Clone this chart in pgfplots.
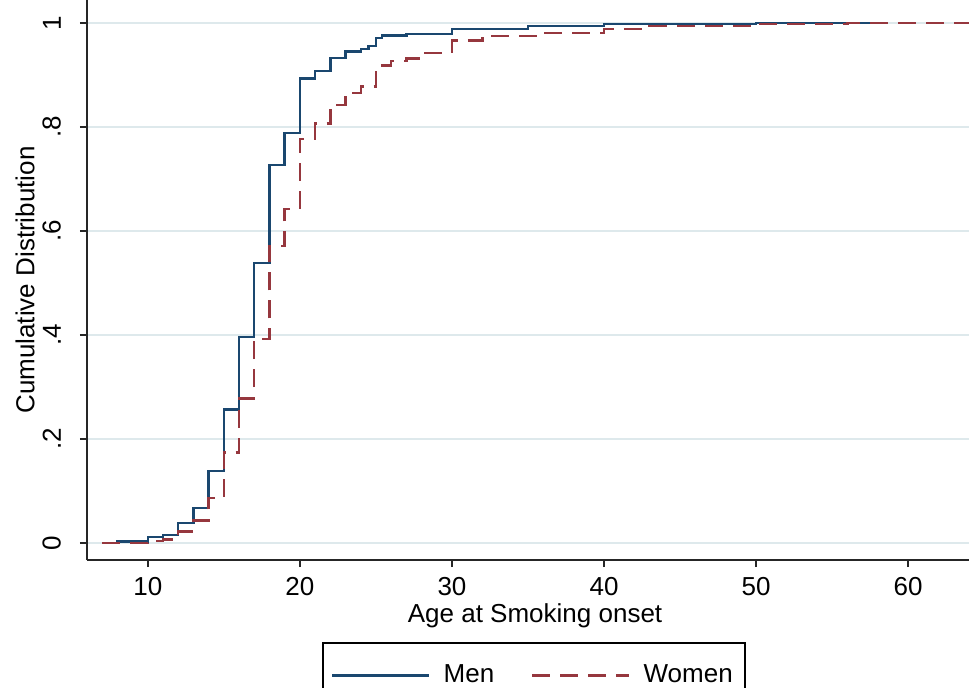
\documentclass[border=0pt]{standalone}
\usepackage{fontspec}
\setmainfont{Liberation Sans}
\usepackage{pgfplots}
\pgfplotsset{compat=1.18}
\definecolor{stnavy}{RGB}{26,71,111}
\definecolor{stmaroon}{RGB}{150,55,62}
\definecolor{stgrid}{RGB}{222,233,236}
\begin{document}
\begin{tikzpicture}
\path[use as bounding box] (-43.5pt,-63.5pt) rectangle (441pt,280pt);
\clip (-43.5pt,-63.5pt) rectangle (441pt,280pt);
\begin{axis}[
  at={(0pt,0pt)}, anchor=south west,
  scale only axis, width=441pt, height=280pt,
  xmin=6, xmax=64, ymin=-0.0327, ymax=1.0442,
  axis x line*=bottom, axis y line*=left,
  axis line style={line width=0.9pt, black!85},
  tick style={line width=0.9pt, black!85},
  tick align=outside, major tick length=3.5pt,
  xtick={10,20,30,40,50,60},
  ytick={0,0.2,0.4,0.6,0.8,1},
  yticklabels={0,.2,.4,.6,.8,1},
  ymajorgrids, grid style={stgrid, line width=0.8pt},
  /pgf/number format/assume math mode=true,
  tick label style={font=\fontsize{13}{15}\selectfont},
  yticklabel style={rotate=90, anchor=south},
  xticklabel style={anchor=north, inner ysep=1pt},
  xticklabel shift=4pt, yticklabel shift=6pt,
  label style={font=\fontsize{13}{15}\selectfont},
  xlabel={Age at Smoking onset},
  xlabel style={at={(axis description cs:0.508,-0.1)}, anchor=center, inner ysep=1pt},
  ylabel={Cumulative Distribution},
  ylabel style={at={(axis description cs:-0.0703,0.5)}, anchor=center, rotate=0},
  legend columns=2,
  legend style={at={(axis description cs:0.5068,-0.1464)}, anchor=north,
    draw=black, line width=0.9pt, inner xsep=4pt, inner ysep=9pt,
    font=\fontsize{13}{15}\selectfont,
    /tikz/every even column/.append style={column sep=16.5pt}},
  legend image code/.code={\draw[#1] (0pt,0pt) -- (48.5pt,0pt); \path (53pt,0pt);},
]
\addplot[const plot, stnavy, line width=1.2pt] coordinates {
(7,0) (8,0.003) (10,0.011) (11,0.015) (12,0.039) (13,0.067) (14,0.138)
(15,0.257) (16,0.396) (17,0.538) (18,0.727) (19,0.788) (20,0.893)
(21,0.908) (22,0.933) (23,0.945) (24,0.950) (24.5,0.956) (25,0.971)
(25.4,0.976) (27,0.979) (30,0.989) (35,0.994) (40,0.998) (50,1) (58,1)
};
\addlegendentry{Men}
\addplot[const plot, stmaroon, line width=1.2pt, dash pattern=on 9pt off 5pt] coordinates {
(7,0) (10,0.004) (11,0.007) (12,0.022) (13,0.043) (14,0.086) (15,0.174)
(16,0.278) (17,0.392) (18,0.571) (19,0.642) (20,0.777) (21,0.807)
(22,0.842) (23,0.865) (24,0.878) (25,0.918) (26,0.927) (27,0.932)
(28,0.942) (30,0.966) (32,0.975) (36,0.981) (40,0.989) (43,0.994)
(50,0.998) (56,1) (66,1)
};
\addlegendentry{Women}
\end{axis}
\end{tikzpicture}
\end{document}
